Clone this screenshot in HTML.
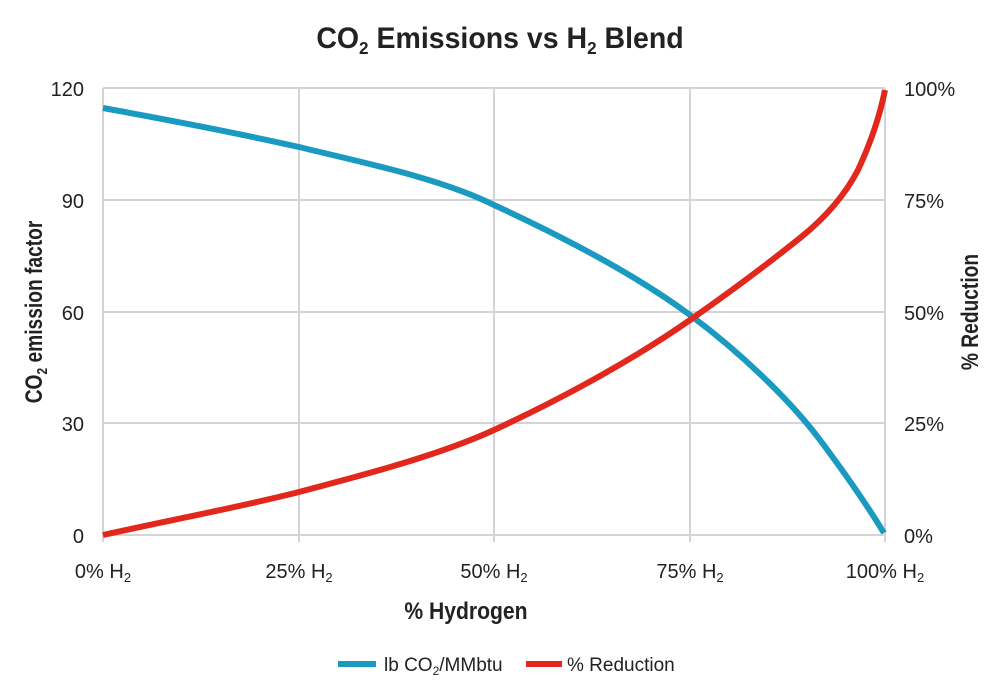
<!DOCTYPE html>
<html><head><meta charset="utf-8"><style>
body{margin:0;background:#fff}
svg text{font-family:"Liberation Sans Narrow","Liberation Sans",sans-serif;fill:#222}
</style></head><body>
<svg width="1000" height="693" viewBox="0 0 1000 693" xmlns="http://www.w3.org/2000/svg">
<rect width="1000" height="693" fill="#fff"/>
<text x="500" y="48" text-anchor="middle" font-size="30" font-weight="bold" transform="translate(500,0) scale(0.95,1) translate(-500,0)">CO<tspan font-size="18" dy="6">2</tspan><tspan dy="-6"> Emissions vs H</tspan><tspan font-size="18" dy="6">2</tspan><tspan dy="-6"> Blend</tspan></text>
<g stroke="#d4d4d4" stroke-width="2" fill="none">
<line x1="103" y1="88" x2="885" y2="88"/>
<line x1="103" y1="200" x2="885" y2="200"/>
<line x1="103" y1="312" x2="885" y2="312"/>
<line x1="103" y1="423" x2="885" y2="423"/>
<line x1="103" y1="535" x2="885" y2="535"/>
<line x1="103" y1="88" x2="103" y2="542"/>
<line x1="299" y1="88" x2="299" y2="542"/>
<line x1="494" y1="88" x2="494" y2="542"/>
<line x1="690" y1="88" x2="690" y2="542"/>
<line x1="885" y1="88" x2="885" y2="542"/>
</g>
<g font-size="20" text-anchor="end">
<text x="84" y="96">120</text><text x="84" y="208">90</text><text x="84" y="320">60</text><text x="84" y="431">30</text><text x="84" y="543">0</text>
</g>
<g font-size="20" text-anchor="start">
<text x="904" y="96">100%</text><text x="904" y="208">75%</text><text x="904" y="320">50%</text><text x="904" y="431">25%</text><text x="904" y="543">0%</text>
</g>
<g font-size="20" text-anchor="middle">
<text x="103" y="578">0% H<tspan font-size="13" dy="4">2</tspan></text>
<text x="299" y="578">25% H<tspan font-size="13" dy="4">2</tspan></text>
<text x="494" y="578">50% H<tspan font-size="13" dy="4">2</tspan></text>
<text x="690" y="578">75% H<tspan font-size="13" dy="4">2</tspan></text>
<text x="885" y="578">100% H<tspan font-size="13" dy="4">2</tspan></text>
</g>
<text x="466" y="619" text-anchor="middle" font-size="24" font-weight="bold" transform="translate(466,0) scale(0.88,1) translate(-466,0)">% Hydrogen</text>
<text transform="translate(42,312) rotate(-90) scale(0.8,1)" text-anchor="middle" font-size="24" font-weight="bold">CO<tspan font-size="15" dy="5">2</tspan><tspan dy="-5"> emission factor</tspan></text>
<text transform="translate(978,312) rotate(-90) scale(0.8,1)" text-anchor="middle" font-size="24" font-weight="bold">% Reduction</text>
<path d="M103,108 C180,122 250,136 299,147 C360,162 440,178 494,205 C570,240 640,278 690,315 C740,352 790,400 820,440 C850,480 870,510 884,533" stroke="#1a9ac0" stroke-width="6" fill="none"/>
<path d="M103,535 C180,518 240,507 299,492 C360,476 440,455 494,430 C570,395 640,355 690,320 C730,292 770,262 800,238 C825,218 845,195 858,170 C872,140 880,115 885,90" stroke="#e2281d" stroke-width="6" fill="none"/>
<line x1="338" y1="664" x2="376" y2="664" stroke="#1a9ac0" stroke-width="6"/>
<text x="384" y="671" font-size="19">lb CO<tspan font-size="12" dy="4">2</tspan><tspan dy="-4">/MMbtu</tspan></text>
<line x1="526" y1="664" x2="562" y2="664" stroke="#e2281d" stroke-width="6"/>
<text x="567" y="671" font-size="19">% Reduction</text>
</svg>
</body></html>
